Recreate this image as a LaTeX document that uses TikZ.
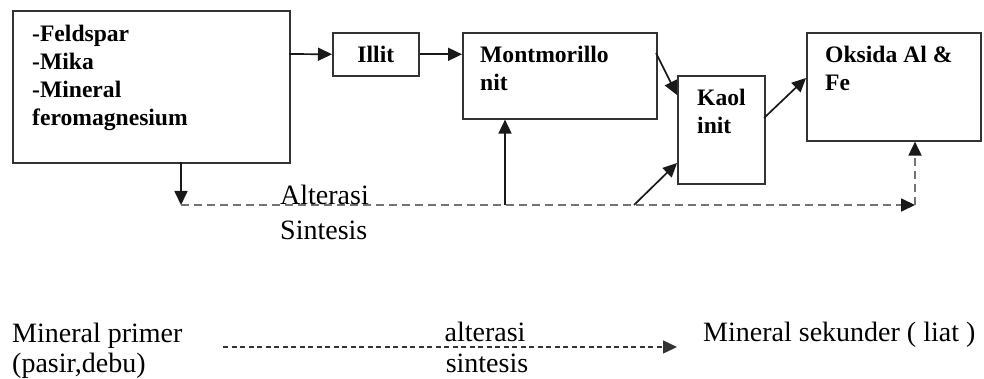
\documentclass[tikz,border=0pt]{standalone}
\usepackage{fontspec}
\setmainfont{Liberation Serif}
\usetikzlibrary{arrows.meta}

\tikzset{
    box/.style={draw=black!80, line width=1.6pt, inner sep=0pt, anchor=north west},
    boxtxt/.style={anchor=north west, inner sep=0pt, align=left, font=\fontsize{23.6}{28}\selectfont\bfseries},
    plaintxt/.style={inner sep=0pt, align=left, font=\fontsize{28}{32}\selectfont},
    link/.style={line width=1.7pt, draw=black!90, -{Triangle[length=14pt,width=13pt]}},
    alt/.style={line width=1.8pt, draw=black!55, dash pattern=on 8pt off 5pt, -{Triangle[length=14pt,width=13pt,color=black!90]}},
}

\begin{document}
\begin{tikzpicture}[x=1pt, y=-1pt]
    \useasboundingbox (0,0) rectangle (984,379);
    % kotak mineral
    \node[box, minimum width=277pt, minimum height=152pt] (primer) at (12,10) {};
    \node[box, minimum width=86pt, minimum height=43pt, font=\fontsize{23.6}{28}\selectfont\bfseries] (illit) at (332,32) {Illit};
    \node[box, minimum width=194pt, minimum height=86pt] (mont) at (462,32) {};
    \node[box, minimum width=87pt, minimum height=108pt] (kaol) at (677,75) {};
    \node[box, minimum width=174pt, minimum height=108pt] (oksida) at (806,32) {};

    \node[boxtxt] (primertxt) at (32,25) {-Feldspar\\-Mika\\-Mineral\\feromagnesium};
    \node[boxtxt] (monttxt) at (480,46) {Montmorillo\\nit};
    \node[boxtxt] (kaoltxt) at (697,89) {Kaol\\init};
    \node[boxtxt] (oksidatxt) at (825,46) {Oksida Al \&\\Fe};

    % panah antar kotak
    \coordinate (p1) at (289,54);
    \coordinate (p2) at (181,162);
    \coordinate (a0) at (181,205);
    \coordinate (a1) at (505,205);
    \coordinate (a2) at (634,205);
    \coordinate (a3) at (915,205);
    \coordinate (m1) at (656,53);
    \coordinate (k1) at (677,95);
    \coordinate (k2) at (764,118);
    \coordinate (o1) at (806,78);
    \coordinate (k3) at (677,163);
    \draw[link] (p1) -- (illit.west);
    \draw[link] (illit.east) -- (mont.west |- illit.east);
    \draw[link] (m1) -- (k1);
    \draw[link] (k2) -- (o1);
    \draw[link] (p2) -- (a0);
    \draw[alt] (a0) -- (a3);
    \draw[link] (a1) -- (a1 |- mont.south);
    \draw[link] (a2) -- (k3);
    \draw[alt] (a3) -- (a3 |- oksida.south);

    \node[plaintxt, anchor=base west] (alterasi) at (280,205) {Alterasi};
    \node[plaintxt, anchor=base west] (sintesis) at (280,240) {Sintesis};

    % keterangan
    \node[plaintxt, anchor=base west] (mprimer) at (12,342) {Mineral primer};
    \node[plaintxt, anchor=base west] (pasir) at (12,372) {(pasir,debu)};
    \node[plaintxt, anchor=base west] (msekunder) at (703,341) {Mineral sekunder ( liat )};
    \node[plaintxt, anchor=base] (alt2) at (485,341) {alterasi};
    \node[plaintxt, anchor=base] (sin2) at (487,372) {sintesis};
    \coordinate (b0) at (223,347);
    \coordinate (b1) at (677,347);
    \draw[line width=1.5pt, draw=black!80, dash pattern=on 5pt off 3.5pt, -{Triangle[length=14pt,width=13pt]}] (b0) -- (b1);
\end{tikzpicture}
\end{document}
